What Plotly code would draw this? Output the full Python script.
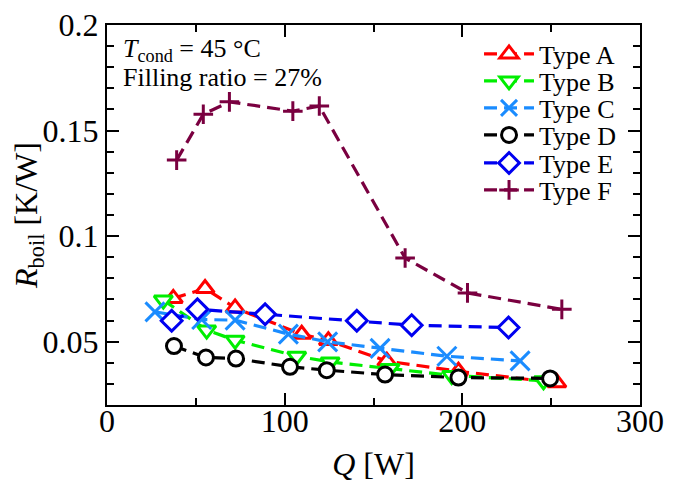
import plotly.graph_objects as go

names = ["Type A", "Type B", "Type C", "Type D", "Type E", "Type F"]
qA = [37.3, 55.2, 72.1, 109.6, 124.6, 157.5, 197.8, 253.2]
rA = [0.0705, 0.0752, 0.0660, 0.0535, 0.0505, 0.0408, 0.0360, 0.0305]
qB = [31.7, 56.1, 72.1, 106.8, 125.6, 159.3, 194.0, 245.7]
rB = [0.0697, 0.0555, 0.0507, 0.0431, 0.0404, 0.0373, 0.0340, 0.0315]
qC = [27.0, 53.3, 72.1, 102.1, 124.2, 153.7, 191.3, 232.5]
rC = [0.0641, 0.0605, 0.0602, 0.0536, 0.0499, 0.0468, 0.0431, 0.0409]
qD = [37.7, 55.7, 72.6, 103.0, 123.7, 156.5, 197.8, 249.4]
rD = [0.0479, 0.0425, 0.0420, 0.0381, 0.0365, 0.0344, 0.0330, 0.0326]
qE = [36.4, 50.9, 89.0, 140.6, 171.5, 226.0]
rE = [0.0599, 0.0653, 0.0630, 0.0599, 0.0578, 0.0567]
qF = [39.2, 54.2, 68.9, 104.6, 119.5, 167.8, 202.9, 256.0]
rF = [0.1360, 0.1577, 0.1636, 0.1592, 0.1616, 0.0896, 0.0731, 0.0653]

xs = [qA, qB, qC, qD, qE, qF]
ys = [rA, rB, rC, rD, rE, rF]
colors = ["#FF0000", "#00EE00", "#1A8CFF", "#000000", "#0000F0", "#7A0040"]
symbols = ["triangle-up", "triangle-down", "x-thin", "circle", "diamond", "cross-thin"]
sizes = [16, 16, 19, 15, 16, 14]

font = '"Liberation Serif", "Times New Roman", serif'

# page has an 8px body margin, so the figure is 8px smaller than the window
W, H = 672, 474
ML, MR, MT, MB = 99, 40, 17, 77
plot_top, plot_bottom = MT, H - MB

legend_ids = ["legend", "legend2", "legend3", "legend4", "legend5", "legend6"]
legend_rows_px = [46, 73, 100, 127, 155, 182]

fig = go.Figure()
for n, x, y, c, s, sz, lg in zip(names, xs, ys, colors, symbols, sizes, legend_ids):
    fig.add_trace(go.Scatter(
        x=x, y=y, name=n, mode="lines+markers", legend=lg,
        line=dict(color=c, width=3.2, dash="13px,7px"),
        marker=dict(symbol=s, size=sz, color="white", line=dict(color=c, width=3)),
    ))

axis_common = dict(
    showline=True, linecolor="black", linewidth=2, mirror="ticks",
    ticks="inside", ticklen=12, tickwidth=1.5, tickcolor="black",
    showgrid=False, zeroline=False, automargin=False, ticklabeloverflow="allow",
    tickfont=dict(family=font, size=32, color="black"),
)
fig.update_xaxes(range=[0, 300], dtick=100, ticklabelstandoff=-13,
                 minor=dict(ticks="inside", ticklen=7, dtick=50, tickcolor="black", tickwidth=1.5),
                 title=dict(text="<i>Q</i> [W]", font=dict(family=font, size=32, color="black")),
                 **axis_common)
fig.update_yaxes(range=[0.02, 0.2], tickvals=[0.05, 0.1, 0.15, 0.2],
                 ticktext=["0.05", "0.1", "0.15", "0.2"],
                 minor=dict(ticks="inside", ticklen=7, dtick=0.01, tickcolor="black", tickwidth=1.5),
                 title=dict(text="<i>R</i><sub>boil</sub> [K/W]", font=dict(family=font, size=32, color="black")),
                 **axis_common)

fig.add_annotation(xref="paper", yref="paper", x=0.027, y=(plot_bottom - 42) / (plot_bottom - plot_top),
                   xanchor="left", yanchor="middle", showarrow=False,
                   text="<i>T</i><sub>cond</sub> = 45 °C",
                   font=dict(family=font, size=26, color="black"))
fig.add_annotation(xref="paper", yref="paper", x=0.027, y=(plot_bottom - 69) / (plot_bottom - plot_top),
                   xanchor="left", yanchor="middle", showarrow=False,
                   text="Filling ratio = 27%",
                   font=dict(family=font, size=26, color="black"))

layout_legends = {}
for lg, py in zip(legend_ids, legend_rows_px):
    layout_legends[lg] = dict(
        x=0.698, y=(plot_bottom - py) / (plot_bottom - plot_top), xanchor="left", yanchor="middle",
        font=dict(family=font, size=26, color="black"),
        bgcolor="rgba(0,0,0,0)", itemwidth=50,
    )

fig.update_layout(
    width=W, height=H,
    margin=dict(l=ML, r=MR, t=MT, b=MB),
    font=dict(family=font, color="black"),
    paper_bgcolor="white", plot_bgcolor="white",
    showlegend=True,
    **layout_legends,
)
fig.write_html("out.html")
